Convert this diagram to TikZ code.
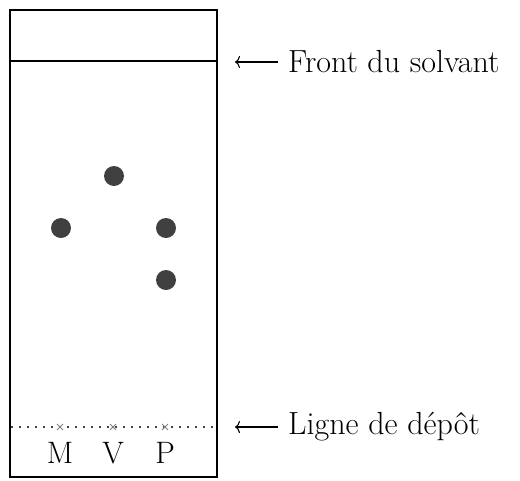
\documentclass[tikz,border=0pt]{standalone}
\usetikzlibrary{arrows.meta}
\begin{document}
\begin{tikzpicture}[x=1pt,y=-1pt,
  spot/.style={circle,fill=black!75,inner sep=0pt,minimum size=20pt},
  lbl/.style={font=\fontsize{32}{34}\selectfont,inner sep=0pt,anchor=base west},
  letter/.style={font=\fontsize{31}{33}\selectfont,inner sep=0pt,anchor=base},
  crossmark/.style={gray,line width=0.8pt},
  pointer/.style={line width=1.1pt,-{Computer Modern Rightarrow[length=5pt,width=12pt]}}
]
\useasboundingbox (0,0) rectangle (520,480);
\draw[line width=2.5pt] (10,10) rectangle (217,477);
\coordinate (fl) at (10,61);
\coordinate (fr) at (217,61);
\draw[line width=2.5pt] (fl) -- (fr);
\coordinate (dl) at (12,427);
\coordinate (dr) at (216,427);
\draw[line width=2.4pt,line cap=round,dash pattern=on 0pt off 8pt] (dl) -- (dr);
\foreach \x/\n in {60/M,113/V,165/P}{
  \draw[crossmark] (\x-3,424) -- (\x+3,430) (\x-3,430) -- (\x+3,424);
  \node[letter] (l\n) at (\x,463) {\n};
}
\node[spot] (s1) at (114,176) {};
\node[spot] (s2) at (61,228) {};
\node[spot] (s3) at (166,228) {};
\node[spot] (s4) at (166,280) {};
\node[lbl] (front) at (288,72) {Front du solvant};
\node[lbl] (ligne) at (288,434) {Ligne de dépôt};
\coordinate (fa1) at (278,62);
\coordinate (fa2) at (235,62);
\coordinate (la1) at (278,427);
\coordinate (la2) at (235,427);
\draw[pointer] (fa1) -- (fa2);
\draw[pointer] (la1) -- (la2);
\end{tikzpicture}
\end{document}
